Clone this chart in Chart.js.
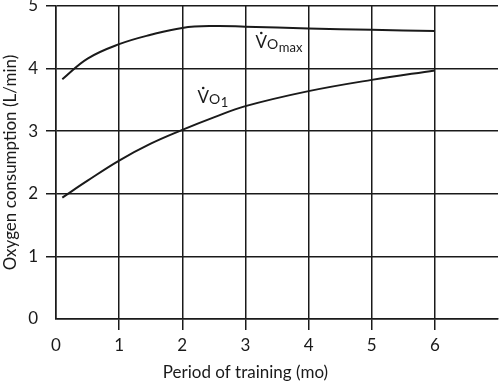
<!DOCTYPE html>
<html>
<head>
<meta charset="utf-8">
<script src="https://cdn.jsdelivr.net/npm/chart.js@4"></script>
<style>
    html, body { margin: 0; padding: 0; background: #fff; }
    #wrap { width: 500px; height: 384px; }
</style>
</head>
<body>
<div id="wrap"><canvas id="chart"></canvas></div>
<script>
// Values
const months = [0.1, 0.5, 1, 1.5, 2, 2.5, 3, 4, 5, 6];
const vo2max = [3.83, 4.16, 4.39, 4.54, 4.65, 4.68, 4.67, 4.64, 4.62, 4.60];
const vo1 = [1.94, 2.21, 2.53, 2.80, 3.02, 3.22, 3.40, 3.64, 3.82, 3.97];
const xTicks = [0, 1, 2, 3, 4, 5, 6];
const yTicks = [0, 1, 2, 3, 4, 5];

const ink = '#1a1a1a';
const fontFamily = 'Lato, "Open Sans", sans-serif';

function toPoints(values) {
    return months.map((m, i) => ({ x: m, y: values[i] }));
}

// Draws the V-dot-O labels next to the curves and the x axis title
const labelPlugin = {
    id: 'curveLabels',
    afterDatasetsDraw(chart) {
        const ctx = chart.ctx;
        const xs = chart.scales.x;
        const ys = chart.scales.y;

        function voLabel(xVal, yVal, sub) {
            let x = xs.getPixelForValue(xVal);
            const y = ys.getPixelForValue(yVal);
            ctx.save();
            ctx.fillStyle = ink;
            ctx.textBaseline = 'alphabetic';
            ctx.textAlign = 'left';
            ctx.font = '17px ' + fontFamily;
            const vw = ctx.measureText('V').width;
            ctx.fillText('V', x, y);
            // dot over the V
            ctx.beginPath();
            ctx.arc(x + vw / 2, y - 15, 1.3, 0, Math.PI * 2);
            ctx.fill();
            x += vw;
            ctx.font = '14px ' + fontFamily;
            ctx.fillText('O', x, y + 1);
            x += ctx.measureText('O').width + 0.5;
            ctx.font = '13px ' + fontFamily;
            ctx.fillText(sub, x, y + 4);
            ctx.restore();
        }

        voLabel(3.16, 4.33, 'max');
        voLabel(2.24, 3.45, '1');

        // x axis title centred under the 0-6 months span
        ctx.save();
        ctx.fillStyle = ink;
        ctx.font = '17px ' + fontFamily;
        ctx.textAlign = 'center';
        ctx.textBaseline = 'middle';
        ctx.fillText('Period of training (mo)', xs.getPixelForValue(3), 373);
        ctx.restore();
    }
};

new Chart(document.getElementById('chart').getContext('2d'), {
    type: 'line',
    data: {
        datasets: [
            {
                label: 'VO2max',
                data: toPoints(vo2max),
                borderColor: ink,
                borderWidth: 2,
                pointRadius: 0,
                tension: 0.4,
                fill: false
            },
            {
                label: 'VO1',
                data: toPoints(vo1),
                borderColor: ink,
                borderWidth: 2,
                pointRadius: 0,
                tension: 0.4,
                fill: false
            }
        ]
    },
    options: {
        responsive: true,
        maintainAspectRatio: false,
        animation: false,
        layout: { padding: { top: 6, right: 2, left: 0, bottom: 0 } },
        plugins: {
            legend: { display: false },
            tooltip: { enabled: false }
        },
        scales: {
            x: {
                type: 'linear',
                min: 0,
                max: 7,
                afterBuildTicks: scale => { scale.ticks = xTicks.concat([7]).map(v => ({ value: v })); },
                afterFit: scale => {
                    scale.height = 65;
                    scale.paddingLeft = 0;
                    scale.paddingRight = 0;
                },
                ticks: {
                    color: ink,
                    font: { family: fontFamily, size: 17 },
                    padding: 5,
                    maxRotation: 0,
                    callback: v => (xTicks.includes(v) ? String(v) : '')
                },
                grid: {
                    color: ctx => (ctx.tick && ctx.tick.value === 7 ? 'rgba(0,0,0,0)' : ink),
                    tickColor: ctx => (ctx.tick && (ctx.tick.value === 0 || ctx.tick.value === 7) ? 'rgba(0,0,0,0)' : ink),
                    lineWidth: 1.5,
                    tickLength: 11
                },
                border: { color: ink, width: 1.5 },
                title: { display: false }
            },
            y: {
                min: 0,
                max: 5,
                afterBuildTicks: scale => { scale.ticks = yTicks.map(v => ({ value: v })); },
                afterFit: scale => {
                    scale.width = 56;
                    scale.paddingTop = 0;
                    scale.paddingBottom = 0;
                },
                ticks: {
                    color: ink,
                    font: { family: fontFamily, size: 17 },
                    padding: 8
                },
                grid: {
                    color: ink,
                    tickColor: ctx => (ctx.tick && ctx.tick.value === 0 ? 'rgba(0,0,0,0)' : ink),
                    lineWidth: 1.5,
                    tickLength: 10
                },
                border: { color: ink, width: 1.5 },
                title: {
                    display: true,
                    text: 'Oxygen consumption (L/min)',
                    color: ink,
                    font: { family: fontFamily, size: 17 },
                    padding: 0
                }
            }
        }
    },
    plugins: [labelPlugin]
});
</script>
</body>
</html>
